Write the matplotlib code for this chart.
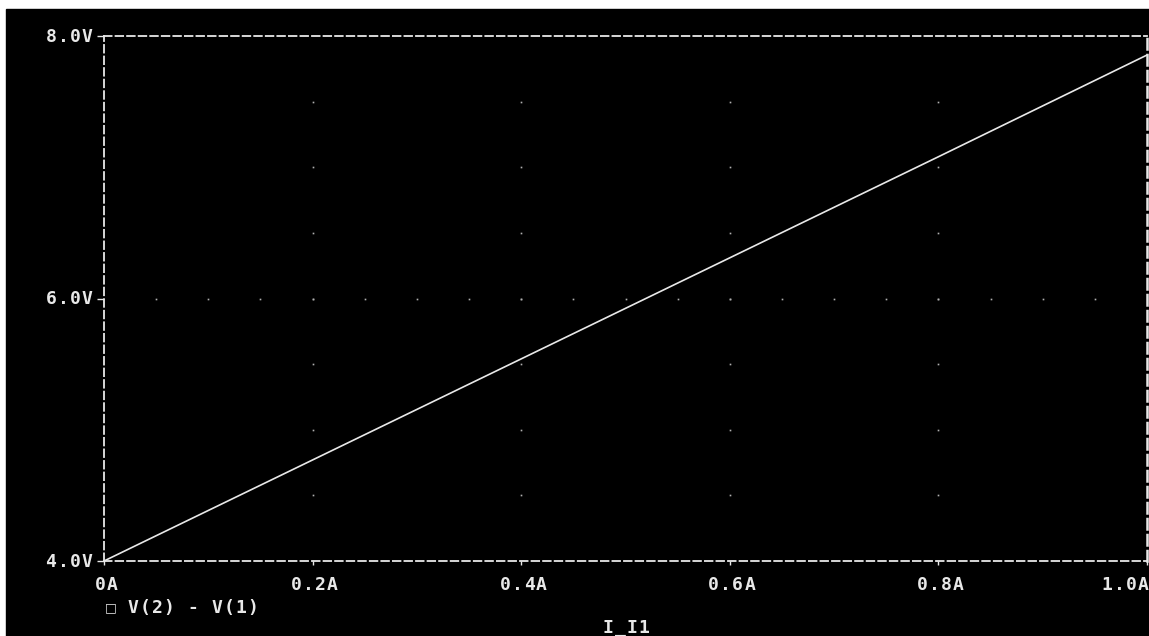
import numpy as np
import matplotlib.pyplot as plt
from matplotlib.patches import Rectangle
from matplotlib.transforms import offset_copy, blended_transform_factory

# Дані
current = [0.0, 0.2, 0.4, 0.6, 0.8, 1.0]          # A
voltage = [4.0, 4.77, 5.54, 6.31, 7.08, 7.855]    # V(2) - V(1)

x_ticks = [0.0, 0.2, 0.4, 0.6, 0.8, 1.0]
x_labels = ['0A', '0.2A', '0.4A', '0.6A', '0.8A', '1.0A']
y_ticks = [4.0, 6.0, 8.0]
y_labels = ['4.0V', '6.0V', '8.0V']

fg = '#e8e8e8'
font = dict(family='DejaVu Sans Mono', weight='bold', size=13, color=fg)
STEP = 12 * 0.72  # крок символу 12 px, у пунктах


def spaced(fig, trans, x, y, s, align='center', dx=0, dy=0):
    # піксельний шрифт PSpice має широкий крок — ставимо кожен символ окремо
    n = len(s)
    for i, ch in enumerate(s):
        if align == 'center':
            off = (i - (n - 1) / 2) * STEP
        elif align == 'right':
            off = -(n - 1 - i) * STEP
        else:
            off = i * STEP
        t = offset_copy(trans, fig=fig, x=off + dx, y=dy, units='points')
        fig.text(x, y, ch, transform=t, ha='center', va='center', fontdict=font)


fig = plt.figure(figsize=(11.49, 6.36), dpi=100, facecolor='white')
# чорне поле (білі смуги зверху і зліва як на скріншоті)
fig.patches.append(Rectangle((6 / 1149, 0), 1, 1 - 9 / 636,
                             transform=fig.transFigure, color='black', zorder=-10))

ax = fig.add_axes([104 / 1149, 75 / 636, 1043 / 1149, 525 / 636])
ax.set_facecolor('black')
ax.set_xlim(0, 1)
ax.set_ylim(4, 8)

# пунктирна рамка
for s in ax.spines.values():
    s.set_color(fg)
    s.set_linewidth(1.3)
    s.set_linestyle((0, (4.2, 2.2)))
ax.spines['right'].set_linewidth(1.8)

# точкова сітка
gx = np.arange(0.05, 1.0, 0.05)
ax.plot(gx, np.full_like(gx, 6.0), ls='none', marker='s', ms=1.2, color='#b0b0b0', mec='none')
gy = np.arange(4.5, 8.0, 0.5)
for xv in x_ticks[1:-1]:
    ax.plot(np.full_like(gy, xv), gy, ls='none', marker='s', ms=1.2, color='#b0b0b0', mec='none')

# крива
ax.plot(current, voltage, color=fg, lw=1.2, clip_on=False)

ax.set_xticks(x_ticks)
ax.set_yticks(y_ticks)
ax.set_xticklabels([])
ax.set_yticklabels([])
ax.tick_params(axis='x', colors=fg, length=3, width=1, direction='out')
ax.tick_params(axis='y', colors=fg, length=5, width=1, direction='out')

# підписи поділок
xt = blended_transform_factory(ax.transData, ax.transAxes)
for xv, lab in zip(x_ticks, x_labels):
    if xv == x_ticks[-1]:
        spaced(fig, xt, xv, 0, lab, align='right', dx=-4 * 0.72, dy=-24 * 0.72)
    else:
        spaced(fig, xt, xv, 0, lab, align='center', dx=2 * 0.72, dy=-24 * 0.72)
yt = blended_transform_factory(ax.transAxes, ax.transData)
for yv, lab in zip(y_ticks, y_labels):
    spaced(fig, yt, 0, yv, lab, align='right', dx=-17 * 0.72, dy=-1 * 0.72)

# легенда та підпис осі
fig.text(110.5 / 1149, 1 - 607.5 / 636, '\u25a1', fontdict=dict(family='DejaVu Sans', size=9, color=fg),
         va='center', ha='center')
spaced(fig, fig.transFigure, 133 / 1149, 1 - 608 / 636, 'V(2) - V(1)', align='left')
spaced(fig, fig.transFigure, 626 / 1149, 1 - 628 / 636, 'I_I1', align='center')

plt.savefig('out.png', dpi=100, facecolor=fig.get_facecolor())
